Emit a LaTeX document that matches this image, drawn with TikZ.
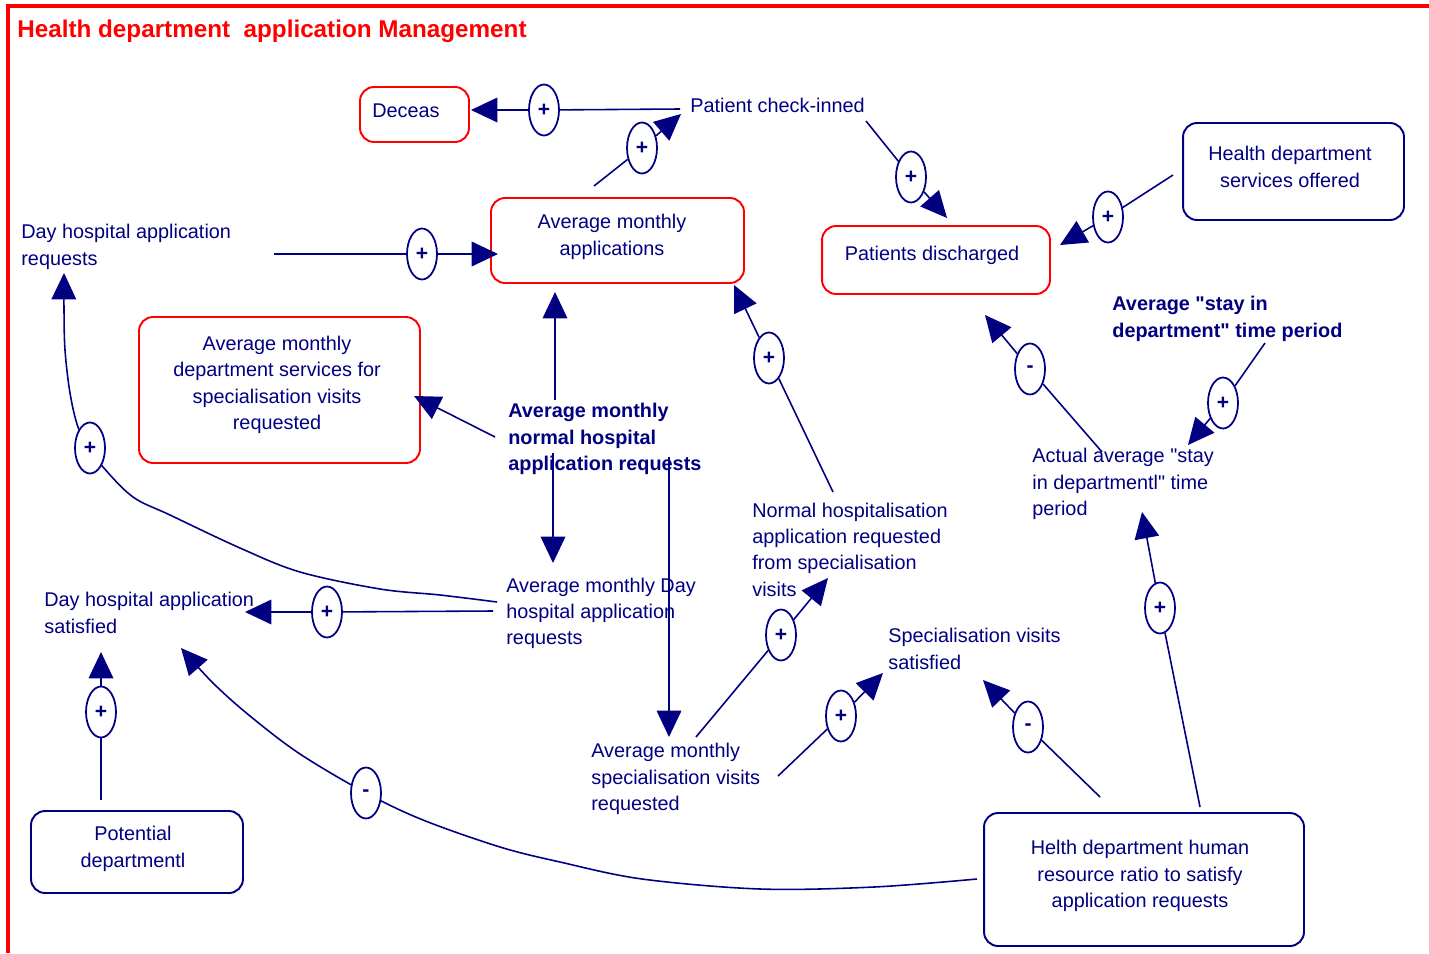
\documentclass[tikz,border=0pt]{standalone}
\usepackage{fontspec}
\setmainfont{Liberation Sans}[Ligatures=TeXOff]
\usetikzlibrary{arrows.meta,shapes.geometric}
\definecolor{dblue}{RGB}{0,0,128}
\newcommand{\fsz}{\fontsize{11.3}{15}\selectfont}
\newcommand{\polfont}{\fontsize{12}{14}\selectfont\bfseries}
\begin{document}
\begin{tikzpicture}[x=0.02cm,y=-0.02cm,
  every node/.style={text=dblue},
  lbl/.style={inner sep=0pt, anchor=west, align=left, font=\fsz},
  blbl/.style={inner sep=0pt, anchor=west, align=left, font=\fsz\bfseries},
  boxtxt/.style={inner sep=0pt, align=center, font=\fsz},
  redbox/.style={rectangle, rounded corners=8pt, draw=red, line width=1.1pt, inner sep=0pt},
  bluebox/.style={rectangle, rounded corners=8pt, draw=dblue, line width=1.1pt, inner sep=0pt},
  pol/.style={ellipse, draw=dblue, line width=1pt, fill=white, minimum width=0.6cm, minimum height=1.02cm, inner sep=0pt, font=\polfont},
  conn/.style={draw=dblue, line width=0.9pt, -{Triangle[length=15pt,width=14pt]}},
]
\useasboundingbox (0,0) rectangle (1429,953);
% frame
\draw[red, line width=2pt] (8,953) -- (8,6) -- (1429,6);
\node[inner sep=0pt, anchor=west, text=red, font=\fontsize{13.8}{16}\selectfont\bfseries] (title) at (17,31) {Health department\ \ application Management};

% boxes
\node[redbox, minimum width=2.18cm, minimum height=1.10cm] (deceas) at (414.5,114.5) {};
\node[boxtxt] (deceast) at (406,111) {Deceas};
\node[redbox, minimum width=5.06cm, minimum height=1.70cm] (ama) at (617.5,240.5) {};
\node[boxtxt] (amat) at (612,237) {Average monthly\\applications};
\node[redbox, minimum width=4.56cm, minimum height=1.36cm] (pdis) at (936,260) {};
\node[boxtxt] (pdist) at (932,255) {Patients discharged};
\node[bluebox, minimum width=4.42cm, minimum height=1.94cm] (hdso) at (1293.5,171.5) {};
\node[boxtxt] (hdsot) at (1290,167) {Health department\\services offered};
\node[redbox, minimum width=5.62cm, minimum height=2.92cm] (amds) at (279.5,390) {};
\node[boxtxt] (amdst) at (277,385) {Average monthly\\department services for\\specialisation visits\\requested};
\node[bluebox, minimum width=4.24cm, minimum height=1.64cm] (pot) at (137,852) {};
\node[boxtxt] (pott) at (133,849) {Potential\\departmentl};
\node[bluebox, minimum width=6.40cm, minimum height=2.66cm] (hr) at (1144,879.5) {};
\node[boxtxt] (hrt) at (1140,876) {Helth department human\\resource ratio to satisfy\\application requests};

% plain labels
\node[lbl] (pci) at (690,105) {Patient check-inned};
\node[lbl] (dhar) at (21,247) {Day hospital application\\requests};
\node[blbl] (amnh) at (508,439) {Average monthly\\normal hospital\\application requests};
\node[blbl] (avst) at (1112,319) {Average "stay in\\department" time period};
\node[lbl] (acst) at (1032,484) {Actual average "stay\\in departmentl" time\\period};
\node[lbl] (nhar) at (752,549.5) {Normal hospitalisation\\application requested\\from specialisation\\visits};
\node[lbl] (amdh) at (506,613.5) {Average monthly Day\\hospital application\\requests};
\node[lbl] (dhas) at (44,613) {Day hospital application\\satisfied};
\node[lbl] (svs) at (888,649) {Specialisation visits\\satisfied};
\node[lbl] (amsv) at (591,779) {Average monthly\\specialisation visits\\requested};

% curved connectors (drawn before the polarity marks)
\coordinate (c9s) at (977,879);
\coordinate (c9e) at (181,648);
\draw[conn] plot[smooth, tension=0.55] coordinates {(c9s) (874,887) (760,889) (642,879) (560,862) (500,847) (423,820) (366,793) (300,754) (250,716) (213,683) (c9e)};
\coordinate (c10s) at (497,602);
\coordinate (c10e) at (64,273);
\draw[conn] plot[smooth, tension=0.55] coordinates {(c10s) (440,595) (380,589) (300,572) (240,548) (170,515) (133,497) (103,467) (90,448) (78,427) (70,393) (65,350) (64,310) (c10e)};

% polarity marks
\node[pol] (p1) at (544,110) {+};
\node[pol] (p2) at (642,148) {+};
\node[pol] (p3) at (911,177) {+};
\node[pol] (p4) at (1108,217) {+};
\node[pol] (p5) at (1223,403) {+};
\node[pol] (p6) at (1030,369) {-};
\node[pol] (p7) at (1160,608) {+};
\node[pol] (p8) at (1028,727) {-};
\node[pol] (p9) at (366,793) {-};
\node[pol] (p10) at (90,448) {+};
\node[pol] (p11) at (327,612) {+};
\node[pol] (p12) at (101,712) {+};
\node[pol] (p13) at (422,254) {+};
\node[pol] (p18) at (769,358) {+};
\node[pol] (p19) at (781,635) {+};
\node[pol] (p20) at (841,716) {+};

% connector end points
\coordinate (c1s) at (680,109);  \coordinate (c1e) at (471,110);
\coordinate (c2s) at (594,186);  \coordinate (c2e) at (681,114);
\coordinate (c3s) at (866,121);  \coordinate (c3e) at (947,218);
\coordinate (c4s) at (1173,175); \coordinate (c4e) at (1060,245);
\coordinate (c5s) at (1265,343); \coordinate (c5e) at (1188,445);
\coordinate (c6s) at (1102,452); \coordinate (c6e) at (985,315);
\coordinate (c7s) at (1200,807); \coordinate (c7e) at (1142,512);
\coordinate (c8s) at (1100,797); \coordinate (c8e) at (983,680);
\coordinate (c11s) at (493,611); \coordinate (c11e) at (245,612);
\coordinate (c12s) at (101,800); \coordinate (c12e) at (101,652);
\coordinate (c13s) at (274,254); \coordinate (c13e) at (498,254);
\coordinate (c14s) at (555,400); \coordinate (c14e) at (555,292);
\coordinate (c15s) at (495,437); \coordinate (c15e) at (414,396);
\coordinate (c16s) at (553,453); \coordinate (c16e) at (553,563);
\coordinate (c17s) at (669,457); \coordinate (c17e) at (669,737);
\coordinate (c18s) at (833,492); \coordinate (c18e) at (734,285);
\coordinate (c19s) at (696,737); \coordinate (c19e) at (828,578);
\coordinate (c20s) at (778,776); \coordinate (c20e) at (883,673);

% straight connectors
\draw[conn] (c1s) -- (p1) -- (c1e);
\draw[conn] (c2s) -- (p2) -- (c2e);
\draw[conn] (c3s) -- (p3) -- (c3e);
\draw[conn] (c4s) -- (p4) -- (c4e);
\draw[conn] (c5s) -- (p5) -- (c5e);
\draw[conn] (c6s) -- (p6) -- (c6e);
\draw[conn] (c7s) -- (p7) -- (c7e);
\draw[conn] (c8s) -- (p8) -- (c8e);
\draw[conn] (c11s) -- (p11) -- (c11e);
\draw[conn] (c12s) -- (p12) -- (c12e);
\draw[conn] (c13s) -- (p13) -- (c13e);
\draw[conn] (c14s) -- (c14e);
\draw[conn] (c15s) -- (c15e);
\draw[conn] (c16s) -- (c16e);
\draw[conn] (c17s) -- (c17e);
\draw[conn] (c18s) -- (p18) -- (c18e);
\draw[conn] (c19s) -- (p19) -- (c19e);
\draw[conn] (c20s) -- (p20) -- (c20e);
\end{tikzpicture}
\end{document}
